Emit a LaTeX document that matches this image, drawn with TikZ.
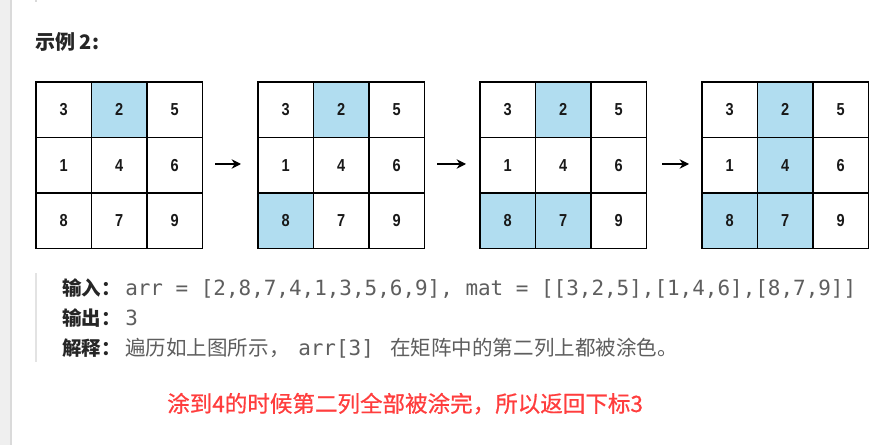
\documentclass[tikz,border=0pt]{standalone}
\usepackage{fontspec}
\setmainfont{Liberation Sans}
\newfontfamily\cjk{Noto Sans CJK SC}
\newfontfamily\cjknote[FakeBold=0.6]{Noto Sans CJK SC}
\newfontfamily\monof{DejaVu Sans Mono}
\newfontfamily\cellfont[FakeStretch=0.84]{Liberation Sans}
\usetikzlibrary{arrows.meta}
\definecolor{hlblue}{HTML}{B1DDF0}
\definecolor{band}{HTML}{EFEFEF}
\definecolor{bandedge}{HTML}{DADADA}
\definecolor{quotebar}{HTML}{E3E3E3}
\definecolor{txtdark}{HTML}{262626}
\definecolor{txtgray}{HTML}{5E5E5E}
\definecolor{redtxt}{HTML}{FF3D3D}
\tikzset{
  cell/.style={draw=black, line width=1.1pt, minimum size=41.6pt, inner sep=0pt, outer sep=0pt,
    font=\cellfont\bfseries\fontsize{13pt}{15pt}\selectfont, text=black!90},
  steparrow/.style={-{Stealth[length=7pt,width=7pt]}, line width=1.1pt, black},
  lbl/.style={anchor=base west, inner sep=0pt, text=txtdark, font=\cjk\bfseries\fontsize{14.6pt}{17pt}\selectfont},
  titletxt/.style={anchor=base west, inner sep=0pt, text=txtdark, font=\cjk\bfseries\fontsize{15pt}{18pt}\selectfont},
  monotxt/.style={anchor=base west, inner sep=0pt, text=txtgray, font=\monof\fontsize{15.7pt}{18pt}\selectfont},
  exptxt/.style={anchor=base west, inner sep=0pt, text=txtgray, font=\cjk\fontsize{15.4pt}{18pt}\selectfont},
  notetxt/.style={anchor=base west, inner sep=0pt, text=redtxt, font=\cjknote\fontsize{16.9pt}{20pt}\selectfont},
}
\begin{document}
\begin{tikzpicture}[x=0.75pt, y=-0.75pt]
  \fill[white] (0,0) rectangle (885,445);
  \useasboundingbox (0,0) rectangle (885,445);
  % page band on the left
  \fill[band] (0,0) rectangle (11,445);
  \draw[bandedge, line width=0.8pt] (11,0) -- (11,445);
  \fill[band!80!gray] (35,0) rectangle (37,2);
  % title
  \node[titletxt] (title) at (35,50) {示例 2:};
  % grids
  \foreach \g/\gx in {1/36,2/258,3/480,4/702} {
    \foreach \r/\c/\v/\t in {1/1/3/9,1/2/2/1,1/3/5/9,2/1/1/9,2/2/4/4,2/3/6/9,3/1/8/2,3/2/7/3,3/3/9/9} {
      \pgfmathtruncatemacro\hh{\g>=\t ? 1 : 0}
      \ifnum\hh=1 \def\fc{hlblue}\else\def\fc{white}\fi
      \node[cell, fill=\fc] (g\g-\r\c) at ({\gx+\c*55.5-27.75}, {82+\r*55.5-27.75}) {\v};
    }
  }
  % arrows between grids
  \coordinate (a1s) at (215,164); \coordinate (a1e) at (241,164);
  \coordinate (a2s) at (437,164); \coordinate (a2e) at (466,164);
  \coordinate (a3s) at (662,164); \coordinate (a3e) at (689,164);
  \draw[steparrow] (a1s) -- (a1e);
  \draw[steparrow] (a2s) -- (a2e);
  \draw[steparrow] (a3s) -- (a3e);
  % quote block
  \fill[quotebar] (35,273) rectangle (37,362);
  \node[lbl] (inL) at (62,296) {输入：};
  \node[monotxt] (inV) at (125,296) {arr = [2,8,7,4,1,3,5,6,9], mat = [[3,2,5],[1,4,6],[8,7,9]]};
  \node[lbl] (outL) at (62,325.5) {输出：};
  \node[monotxt] (outV) at (125,325.5) {3};
  \node[lbl] (expL) at (62,355) {解释：};
  \node[exptxt] (expV1) at (125,355) {遍历如上图所示，};
  \node[monotxt] (expV2) at (298,355) {arr[3]};
  \node[exptxt] (expV3) at (390,355) {在矩阵中的第二列上都被涂色。};
  % red note
  \node[notetxt] (note) at (167,412) {涂到4的时候第二列全部被涂完，所以返回下标3};
\end{tikzpicture}
\end{document}
